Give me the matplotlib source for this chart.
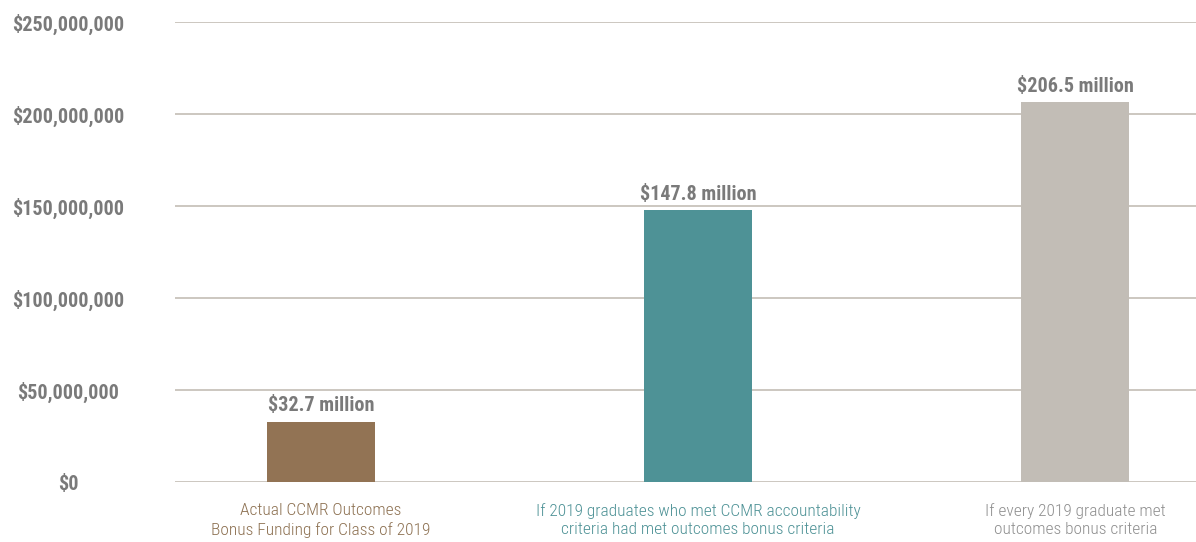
import numpy as np
import matplotlib
matplotlib.use("Agg")
import matplotlib.pyplot as plt
from matplotlib.ticker import FuncFormatter

categories = ["Actual CCMR Outcomes\nBonus Funding for Class of 2019",
              "If 2019 graduates who met CCMR accountability\ncriteria had met outcomes bonus criteria",
              "If every 2019 graduate met\noutcomes bonus criteria"]
values = [32.7e6, 147.8e6, 206.5e6]
value_labels = ["$32.7 million", "$147.8 million", "$206.5 million"]
bar_colors = ["#927354", "#4e9296", "#c2bdb6"]
label_colors = ["#8d7152", "#4e9296", "#8f8f8f"]
yticks = [0, 50e6, 100e6, 150e6, 200e6, 250e6]

plt.rcParams['font.family'] = ["Roboto Condensed", "Liberation Sans Narrow", "DejaVu Sans"]

fig = plt.figure(figsize=(11.96, 5.42), dpi=100)
ax = fig.add_axes([175/1196, 1 - 482/542, 1 - 175/1196, 460/542])

x = np.arange(len(values))
ax.bar(x, values, width=0.287, color=bar_colors, zorder=3)

# value labels on top of bars
for i, v in enumerate(values):
    ax.text(x[i], v + 3.5e6, value_labels[i], ha="center", va="bottom",
            fontsize=14.5, fontweight="bold", color="#7a7a7a", zorder=4)

ax.set_xlim(-0.387, 2.32)
ax.set_ylim(0, 250e6)
ax.set_yticks(yticks)
ax.yaxis.set_major_formatter(FuncFormatter(lambda v, p: "${:,.0f}".format(v)))
ax.tick_params(axis="y", length=0, pad=77)
ax.tick_params(axis="x", length=0, pad=15)
for lab in ax.get_yticklabels():
    lab.set_fontweight("bold")
    lab.set_fontsize(14.5)
    lab.set_color("#7a7a7a")
    lab.set_horizontalalignment("center")

ax.set_xticks(x)
ax.set_xticklabels(categories, fontsize=12.5, fontweight="light")
for lab, c in zip(ax.get_xticklabels(), label_colors):
    lab.set_color(c)
    lab.set_linespacing(1.3)

ax.grid(axis="y", color="#c4bdb5", linewidth=1.2, zorder=0)
for s in ax.spines.values():
    s.set_visible(False)

fig.savefig("out.png", dpi=100)
